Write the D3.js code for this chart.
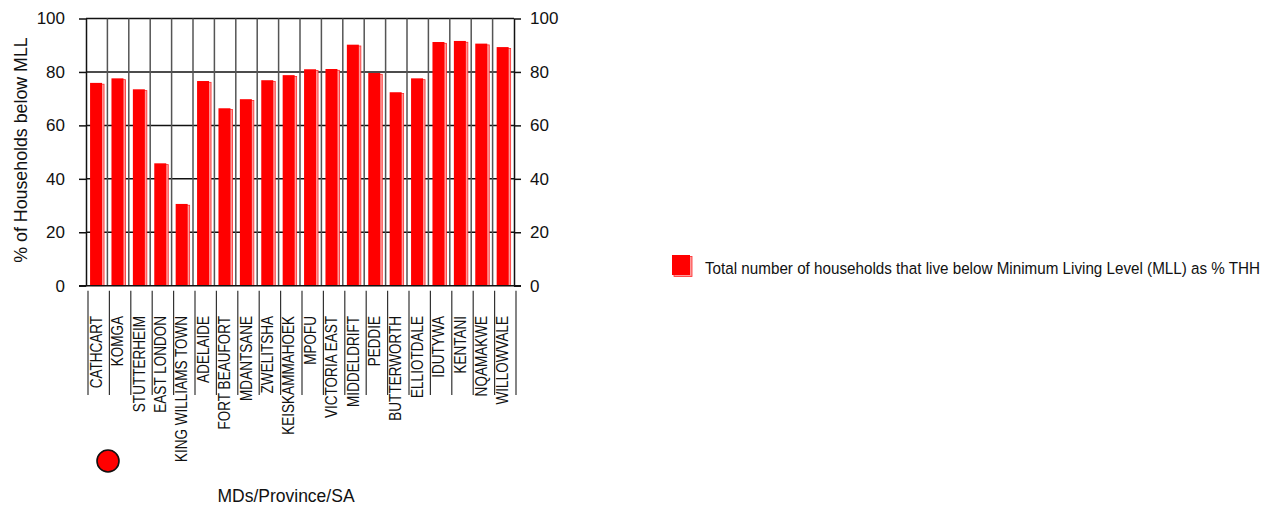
<!DOCTYPE html>
<html>
<head>
<meta charset="utf-8">
<script src="https://cdn.jsdelivr.net/npm/d3@7"></script>
<style>
  body { margin: 0; background: #fff; }
  svg { display: block; }
  text { font-family: "Liberation Sans", Arial, sans-serif; fill: #111; }
</style>
</head>
<body>
<svg id="chart" width="1280" height="506"></svg>
<script>
// Magisterial districts and share of households below the Minimum Living Level (%)
const districts = [
  "CATHCART", "KOMGA", "STUTTERHEIM", "EAST LONDON", "KING WILLIAMS TOWN",
  "ADELAIDE", "FORT BEAUFORT", "MDANTSANE", "ZWELITSHA", "KEISKAMMAHOEK",
  "MPOFU", "VICTORIA EAST", "MIDDELDRIFT", "PEDDIE", "BUTTERWORTH",
  "ELLIOTDALE", "IDUTYWA", "KENTANI", "NQAMAKWE", "WILLOWVALE"
];
const mllShare = [
  75.9, 77.6, 73.5, 45.8, 30.6,
  76.6, 66.4, 69.8, 76.9, 78.8,
  81.0, 81.1, 90.2, 79.6, 72.4,
  77.6, 91.2, 91.6, 90.6, 89.3
];
const yTicks = [0, 20, 40, 60, 80, 100];
const seriesName = "Total number of households that live below Minimum Living Level (MLL) as % THH";
const yTitle = "% of Households below MLL";
const xTitle = "MDs/Province/SA";

const svg = d3.select("#chart");
const plot = { left: 86, right: 514, top: 18.5, bottom: 285.7 };

const x = d3.scaleBand().domain(districts).range([plot.left, plot.right]).padding(0);
const y = d3.scaleLinear().domain([0, 100]).range([plot.bottom, plot.top]);
const bw = x.bandwidth();

// horizontal gridlines
svg.append("g")
  .selectAll("line")
  .data(yTicks.filter(v => v > 0))
  .join("line")
  .attr("x1", plot.left).attr("x2", plot.right)
  .attr("y1", d => y(d)).attr("y2", d => y(d))
  .attr("stroke", "#111").attr("stroke-width", 1.5);

// vertical category separators inside the plot
svg.append("g")
  .selectAll("line")
  .data(districts.slice(1))
  .join("line")
  .attr("x1", d => x(d)).attr("x2", d => x(d))
  .attr("y1", plot.top).attr("y2", plot.bottom)
  .attr("stroke", "#555").attr("stroke-width", 1.5);

// bars with a light offset shadow
const bars = svg.append("g");
bars.selectAll("rect.shadow")
  .data(districts)
  .join("rect")
  .attr("class", "shadow")
  .attr("x", d => x(d) + bw * 0.19 + 2)
  .attr("y", (d, i) => y(mllShare[i]) + 1.3)
  .attr("width", bw * 0.56)
  .attr("height", (d, i) => plot.bottom - y(mllShare[i]) - 1.3)
  .attr("fill", "#ff9a9a")
  .attr("stroke", "#ff2a2a").attr("stroke-width", 0.8);
bars.selectAll("rect.bar")
  .data(districts)
  .join("rect")
  .attr("class", "bar")
  .attr("x", d => x(d) + bw * 0.19)
  .attr("y", (d, i) => y(mllShare[i]))
  .attr("width", bw * 0.56)
  .attr("height", (d, i) => plot.bottom - y(mllShare[i]))
  .attr("fill", "#ff0000");

// left and right value axes
const styleAxis = g => {
  g.selectAll("path.domain").attr("stroke", "#111").attr("stroke-width", 1.5);
  g.selectAll(".tick line").attr("stroke", "#111").attr("stroke-width", 1.5);
  g.selectAll(".tick text").attr("font-size", 17).attr("fill", "#111")
    .style("font-family", '"Liberation Sans", Arial, sans-serif');
};
svg.append("g")
  .attr("transform", `translate(${plot.left},0)`)
  .call(d3.axisLeft(y).tickValues(yTicks).tickSize(7).tickSizeOuter(0).tickPadding(14))
  .call(styleAxis);
svg.append("g")
  .attr("transform", `translate(${plot.right},0)`)
  .call(d3.axisRight(y).tickValues(yTicks).tickSize(7).tickSizeOuter(0).tickPadding(9))
  .call(styleAxis);

// category axis line
svg.append("line")
  .attr("x1", plot.left - 7).attr("x2", plot.right + 7)
  .attr("y1", plot.bottom).attr("y2", plot.bottom)
  .attr("stroke", "#111").attr("stroke-width", 1.5);

// separators between category labels below the axis
const edges = districts.map(d => x(d)).concat([plot.right]);
svg.append("g")
  .selectAll("line")
  .data(edges)
  .join("line")
  .attr("x1", d => d + 2).attr("x2", d => d + 2)
  .attr("y1", plot.bottom + 5).attr("y2", 395)
  .attr("stroke", "#333").attr("stroke-width", 1.2);

// rotated category labels
svg.append("g")
  .selectAll("text")
  .data(districts)
  .join("text")
  .attr("transform", d => `translate(${x(d) + bw / 2 + 5},316) rotate(-90) scale(0.82,1)`)
  .attr("text-anchor", "end")
  .attr("font-size", 16.5)
  .text(d => d);

// axis titles
svg.append("text")
  .attr("transform", `translate(26.5,150) rotate(-90)`)
  .attr("text-anchor", "middle")
  .attr("font-size", 17.8)
  .text(yTitle);
svg.append("text")
  .attr("x", 286).attr("y", 502)
  .attr("text-anchor", "middle")
  .attr("font-size", 17.5)
  .text(xTitle);

// round marker below the labels
svg.append("circle")
  .attr("cx", 108).attr("cy", 461).attr("r", 11)
  .attr("fill", "#ff0000").attr("stroke", "#111").attr("stroke-width", 1.6);

// legend
const legend = svg.append("g").attr("transform", "translate(672,255)");
legend.append("rect").attr("x", 2).attr("y", 1.5).attr("width", 18).attr("height", 20)
  .attr("fill", "#ff9a9a").attr("stroke", "#ff2a2a").attr("stroke-width", 0.8);
legend.append("rect").attr("x", 0).attr("y", 0).attr("width", 18).attr("height", 20)
  .attr("fill", "#ff0000");
legend.append("text")
  .attr("transform", "translate(33,18.5) scale(0.895,1)")
  .attr("font-size", 17)
  .text(seriesName);
</script>
</body>
</html>
